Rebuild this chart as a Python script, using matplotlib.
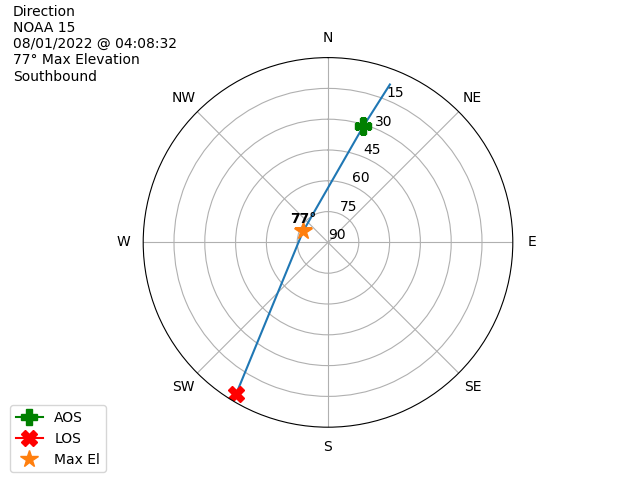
import numpy as np
import matplotlib
matplotlib.use("Agg")
import matplotlib.pyplot as plt

# Pass track (azimuth in degrees, elevation in degrees)
track_az = [21.4, 16.9, 3.4, 293.7, 222.4, 211.2]
track_el = [7.4, 31.0, 60.3, 76.7, 51.2, 3.6]

aos_az, aos_el = 16.9, 31.0
los_az, los_el = 211.2, 3.6
max_az, max_el = 293.7, 76.7
max_label = "77°"

r_ticks = [15, 30, 45, 60, 75, 90]
dir_labels = ["N", "NE", "E", "SE", "S", "SW", "W", "NW"]
dir_angles = [0, 45, 90, 135, 180, 225, 270, 315]

info = "Direction\nNOAA 15\n08/01/2022 @ 04:08:32\n77° Max Elevation\nSouthbound"

fig = plt.figure(figsize=(6.4, 4.8), dpi=100)
ax = fig.add_subplot(111, projection="polar")
ax.set_theta_zero_location("N")
ax.set_theta_direction(-1)

ax.plot(np.radians(track_az), track_el, color="C0")
ax.plot(np.radians([aos_az]), [aos_el], marker="P", color="green", markersize=12, label="AOS")
ax.plot(np.radians([los_az]), [los_el], marker="X", color="red", markersize=12, label="LOS")
ax.plot(np.radians([max_az]), [max_el], marker="*", color="C1", markersize=13, linestyle="none", label="Max El")
ax.annotate(max_label, xy=(np.radians(max_az), max_el), xytext=(0, 4),
            textcoords="offset points", ha="center", va="bottom", fontweight="bold")

ax.set_rlim(90, 0)
ax.set_yticks(r_ticks)
ax.set_yticklabels([str(t) for t in r_ticks])
ax.set_xticks(np.radians(dir_angles))
ax.set_xticklabels(dir_labels)
ax.grid(True)

fig.text(0.02, 0.99, info, ha="left", va="top", fontsize=10)
fig.legend(loc="lower left", bbox_to_anchor=(3 / 640, 1 / 480))

fig.savefig("out.png", dpi=100)
